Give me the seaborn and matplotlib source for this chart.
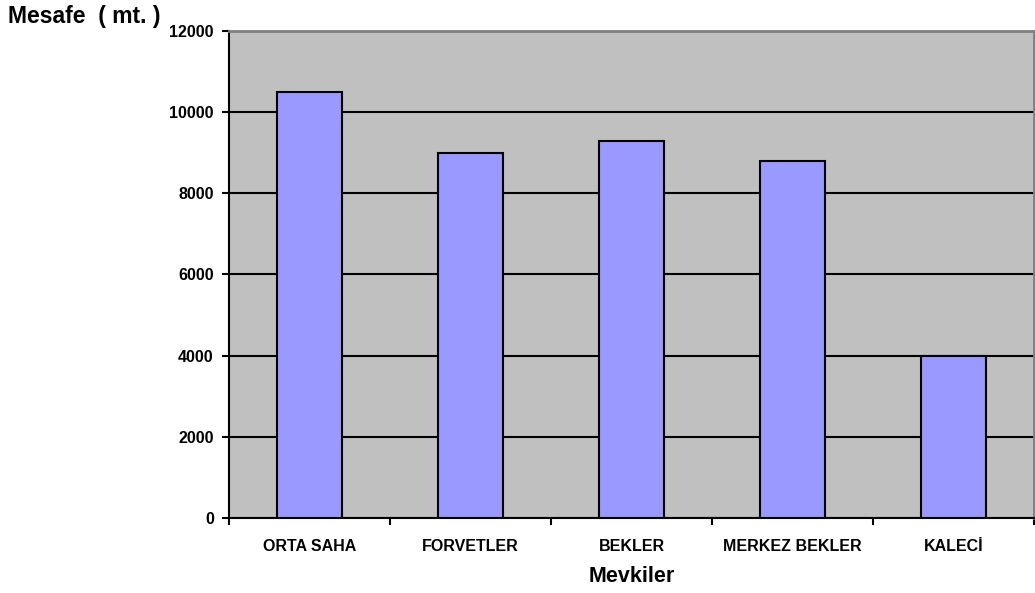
import pandas as pd
import seaborn as sns
import matplotlib
matplotlib.use("Agg")
import matplotlib.pyplot as plt
from matplotlib.ticker import FixedLocator

positions = ["ORTA SAHA", "FORVETLER", "BEKLER", "MERKEZ BEKLER", "KALECİ"]
distances = [10500, 9000, 9300, 8800, 4000]
y_ticks = [0, 2000, 4000, 6000, 8000, 10000, 12000]

df = pd.DataFrame({"Mevkiler": positions, "Mesafe": distances})

sns.set_theme(style="white")
plt.rcParams["font.family"] = ["Liberation Sans", "DejaVu Sans"]
plt.rcParams["font.weight"] = "bold"
plt.rcParams["text.color"] = "black"
plt.rcParams["axes.labelcolor"] = "black"
plt.rcParams["xtick.color"] = "black"
plt.rcParams["ytick.color"] = "black"

fig = plt.figure(figsize=(10.35, 5.93), dpi=100)
ax = fig.add_axes([0.2213, 0.1265, 0.7777, 0.8212])
ax.set_facecolor("#C0C0C0")

sns.barplot(data=df, x="Mevkiler", y="Mesafe", color="#9999FF", width=0.4,
            edgecolor="black", linewidth=1.5, saturation=1, ax=ax, zorder=3)

ax.set_ylim(0, 12000)
ax.set_xlim(-0.5, len(positions) - 0.5)
ax.set_yticks(y_ticks)
ax.set_yticklabels([str(v) for v in y_ticks], fontsize=11.5, fontweight="bold")
ax.yaxis.grid(True, color="black", linewidth=1.5, zorder=1)
ax.set_axisbelow(True)

# category labels without ticks; ticks at category boundaries
ax.set_xticks(range(len(positions)))
ax.set_xticklabels(positions, fontsize=11.5, fontweight="bold")
ax.tick_params(axis="x", which="major", length=0, pad=15)
ax.xaxis.set_minor_locator(FixedLocator([i - 0.5 for i in range(len(positions) + 1)]))
ax.tick_params(axis="x", which="minor", direction="out", length=5, width=1.5, color="black", bottom=True)
ax.tick_params(axis="y", direction="out", length=5, width=1.5, color="black", left=True, pad=6)

for side in ["left", "bottom"]:
    ax.spines[side].set_color("black")
    ax.spines[side].set_linewidth(1.5)
for side in ["top", "right"]:
    ax.spines[side].set_color("#808080")
    ax.spines[side].set_linewidth(2)

ax.set_xlabel("Mevkiler", fontsize=15.5, fontweight="bold", labelpad=9)
ax.set_ylabel("")
fig.text(0.008, 0.972, "Mesafe  ( mt. )", fontsize=16.5, fontweight="bold", ha="left", va="center")

fig.savefig("out.png", dpi=100)
